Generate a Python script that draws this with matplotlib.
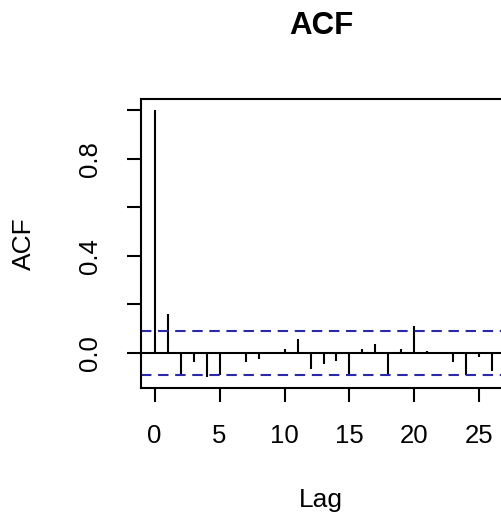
import numpy as np
import matplotlib
matplotlib.use("Agg")
from matplotlib import pyplot as plt

# valores
lags = list(range(0, 27))
acf_vals = [1.0, 0.159, -0.090, -0.039, -0.099, -0.090, -0.004, -0.037, -0.025,
            -0.003, 0.017, 0.058, -0.066, -0.046, -0.032, -0.087, 0.017, 0.037,
            -0.091, 0.017, 0.113, 0.010, -0.003, -0.039, -0.090, -0.018, -0.073]
ci = 0.089
xticks = [0, 5, 10, 15, 20, 25]
yticks = [0.0, 0.2, 0.4, 0.6, 0.8, 1.0]
ylabels = ["0.0", "", "0.4", "", "0.8", ""]

plt.rcParams['font.family'] = ['Liberation Sans', 'DejaVu Sans']

W, H = 502, 515
fig = plt.figure(figsize=(W / 100, H / 100), dpi=100)
ax = fig.add_axes([141 / W, 1 - 387.7 / H, (506 - 141) / W, (387.7 - 99.3) / H])

ax.vlines(lags, 0, acf_vals, color='black', lw=1.5)
ax.axhline(0, color='black', lw=1.5)
ax.axhline(ci, color='#2a2aa8', lw=1.5, ls=(0, (5, 3.2)))
ax.axhline(-ci, color='#2a2aa8', lw=1.5, ls=(0, (5, 3.2)))

ax.set_xlim(-1.04, 27.04)
ax.set_ylim(-0.143, 1.044)
ax.set_xticks(xticks)
ax.set_yticks(yticks)
ax.set_yticklabels(ylabels, rotation=90, va='center')
ax.tick_params(direction='out', length=10, width=1.5, labelsize=18.5)
ax.tick_params(axis='x', pad=16)
ax.tick_params(axis='y', pad=18)
for s in ax.spines.values():
    s.set_linewidth(1.5)

fig.text(321 / W, 1 - 26.5 / H, "ACF", ha='center', va='center', fontsize=22.5, fontweight='bold')
fig.text(321 / W, 1 - 506.5 / H, "Lag", ha='center', va='baseline', fontsize=19)
fig.text(24 / W, 1 - 244 / H, "ACF", ha='center', va='center', rotation=90, fontsize=19)

fig.savefig("out.png", dpi=100)
